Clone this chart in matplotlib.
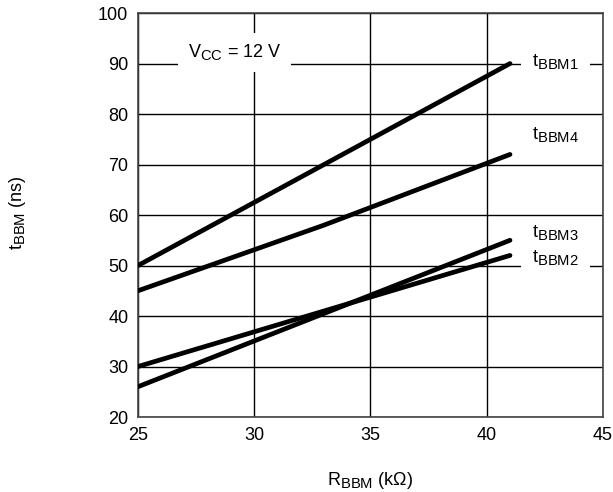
import matplotlib.pyplot as plt
import matplotlib._mathtext as mtext

# subscripts in the reference are bigger than the mathtext default
mtext.SHRINK_FACTOR = 0.82

plt.rcParams['font.family'] = ['Liberation Sans', 'DejaVu Sans']
plt.rcParams['mathtext.fontset'] = 'custom'
plt.rcParams['mathtext.rm'] = 'Liberation Sans'

r_bbm = [25, 33, 41]
t_bbm1 = [50, 70, 90]
t_bbm4 = [45, 58, 72]
t_bbm3 = [26, 40.5, 55]
t_bbm2 = [30, 41, 52]

x_ticks = [25, 30, 35, 40, 45]
y_ticks = [20, 30, 40, 50, 60, 70, 80, 90, 100]

fs = 13

fig = plt.figure(figsize=(6.13, 4.92), dpi=100)
ax = fig.add_axes([0.2251, 0.1524, 0.7586, 0.8211])

for ys in [t_bbm1, t_bbm4, t_bbm3, t_bbm2]:
    ax.plot(r_bbm, ys, color='black', lw=3.4, solid_capstyle='round', zorder=3)

ax.set_xlim(25, 45)
ax.set_ylim(20, 100)
ax.set_xticks(x_ticks)
ax.set_yticks(y_ticks)
ax.grid(True, color='black', lw=1.0)
ax.tick_params(length=0, labelsize=fs, pad=7)
for s in ax.spines.values():
    s.set_color('#444444')
    s.set_linewidth(1.2)

ax.text(29.17, 92.2, r'V$_{\mathregular{CC}}$ = 12 V', fontsize=fs, ha='center', va='center',
        bbox=dict(facecolor='white', edgecolor='none', pad=7), zorder=4)

# labels at the line ends; 1 and 2 sit on grid lines and need a white box
labels = [('BBM1', 90.5, True), ('BBM4', 75.9, False), ('BBM3', 56.5, False), ('BBM2', 51.6, True)]
for name, y, boxed in labels:
    bb = dict(facecolor='white', edgecolor='none', pad=8) if boxed else None
    ax.text(41.95, y, r't$_{\mathregular{%s}}$' % name, fontsize=fs, ha='left', va='center',
            bbox=bb, zorder=4 if boxed else 5)

ax.set_xlabel(r'R$_{\mathregular{BBM}}$ (k$\Omega$)', fontsize=fs, labelpad=19)
fig.text(0.028, 0.567, r't$_{\mathregular{BBM}}$ (ns)', fontsize=fs, rotation=90, ha='center', va='center')

fig.savefig('out.png', dpi=100)
